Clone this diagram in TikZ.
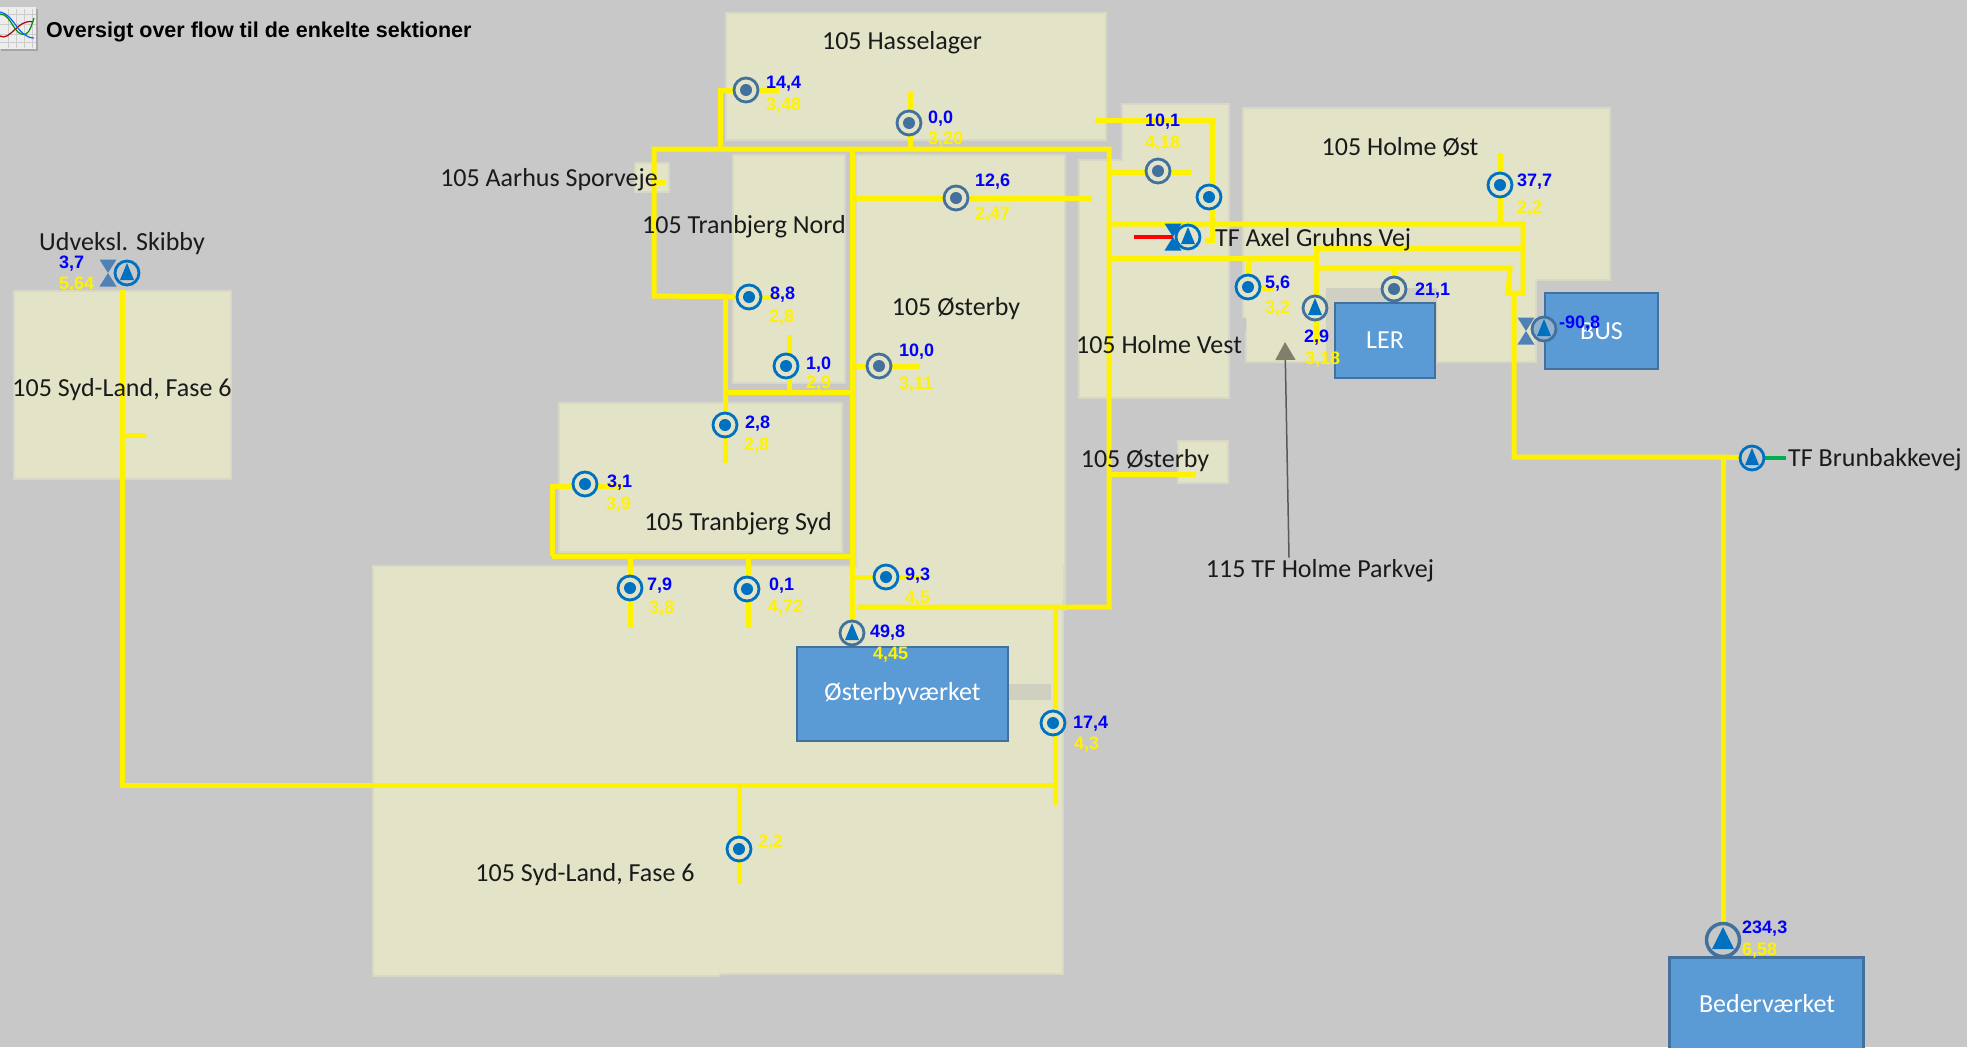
\documentclass[tikz,border=0pt]{standalone}
\usepackage{fontspec}
\usetikzlibrary{arrows.meta}
\newfontfamily\labfont{Carlito}
\newfontfamily\valfont{Liberation Sans}[BoldFont={Liberation Sans Bold}]
\definecolor{bgray}{HTML}{C8C8C8}
\definecolor{beige}{HTML}{E3E3C8}
\definecolor{beigeedge}{HTML}{D8D8C6}
\definecolor{boxfill}{HTML}{5B9BD5}
\definecolor{boxedge}{HTML}{41719C}
\definecolor{brightblue}{HTML}{0070C0}
\definecolor{dullblue}{HTML}{41719C}
\definecolor{valveblue}{HTML}{4F81B5}
\definecolor{arrowolive}{HTML}{7F7F6C}
\definecolor{labblack}{HTML}{1A1A1A}
\definecolor{pipegreen}{HTML}{00B050}
\definecolor{faintband}{HTML}{D0D0C0}
\definecolor{lerband}{HTML}{CFCFC4}
\pgfdeclarelayer{bg}\pgfdeclarelayer{pipes}\pgfsetlayers{bg,pipes,main}
\tikzset{
  region/.style={fill=beige,draw=beigeedge,line width=2pt},
  pipe/.style={draw=yellow,line width=5pt,line join=miter},
  lab/.style={inner sep=0pt,yshift=-2pt,text=labblack,font=\labfont\fontsize{26}{28}\selectfont},
  boxlab/.style={rectangle,draw=boxedge,fill=boxfill,line width=2.5pt,inner sep=0pt,text=white,font=\labfont\fontsize{26}{28}\selectfont},
  bv/.style={anchor=west,inner sep=0pt,yshift=-2pt,text=blue,font=\valfont\bfseries\fontsize{18}{20}\selectfont},
  yv/.style={anchor=west,inner sep=0pt,yshift=-2pt,text=yellow,font=\valfont\bfseries\fontsize{18}{20}\selectfont},
  meter/.style={circle,draw=#1,fill=beige,line width=2.8pt,minimum size=24pt,inner sep=0pt,
    path picture={\fill[#1] (path picture bounding box.center) circle (6);}},
  meter/.default=brightblue,
  pump/.style={circle,draw=#1,fill=beige,line width=2.8pt,minimum size=24pt,inner sep=0pt,
    path picture={\fill[brightblue] ([shift={(0,-10)}]path picture bounding box.center) -- ([shift={(7,7)}]path picture bounding box.center) -- ([shift={(-7,7)}]path picture bounding box.center) -- cycle;}},
  pump/.default=brightblue,
  bigpump/.style={circle,draw=dullblue,fill=bgray,line width=3.5pt,minimum size=33pt,inner sep=0pt,
    path picture={\fill[brightblue] ([shift={(0,-13)}]path picture bounding box.center) -- ([shift={(11,9)}]path picture bounding box.center) -- ([shift={(-11,9)}]path picture bounding box.center) -- cycle;}},
  valve/.style={rectangle,minimum width=17pt,minimum height=27pt,inner sep=0pt,
    path picture={\fill[#1] (path picture bounding box.north west) -- (path picture bounding box.north east) -- (path picture bounding box.south west) -- (path picture bounding box.south east) -- cycle;}},
}
\begin{document}
\begin{tikzpicture}[x=1pt,y=-1pt]
\useasboundingbox (0,0) rectangle (1967,1047);
\begin{pgfonlayer}{bg}
\fill[bgray] (0,0) rectangle (1967,1047);
% sections
\draw[region] (14,291) rectangle (231,479);
\draw[region] (726,13) rectangle (1106,140);
\draw[region] (635,163) rectangle (669,192);
\draw[region] (733,155) rectangle (845,383);
\draw[region] (856,155) rectangle (1065,610);
\draw[region] (559,403) rectangle (842,552);
\draw[region] (373,566) -- (1063,566) -- (1063,974) -- (720,974) -- (720,976) -- (373,976) -- cycle;
\fill[beige] (858,550) rectangle (1063,600);
\draw[region] (1079,160) -- (1122,160) -- (1122,104) -- (1229,104) -- (1229,398) -- (1079,398) -- cycle;
\draw[region] (1243,108) -- (1610,108) -- (1610,280) -- (1536,280) -- (1536,362) -- (1246,362) -- (1246,318) -- (1243,318) -- cycle;
\draw[region] (1178,441) rectangle (1228,483);
\fill[lerband] (1326,288) rectangle (1437,365);
\fill[bgray] (1232,318) rectangle (1246,330);
\fill[faintband] (1008,684) rectangle (1051,700);
\end{pgfonlayer}
% icon
\fill[black!35] (1,9) rectangle (38,51);
\fill[white!93!black] (0,7) rectangle (36,49);
\foreach \gx in {8,16,24,32} \draw[black!20,line width=.7pt] (\gx,9) -- (\gx,48);
\foreach \gy in {14,24,34,42} \draw[black!20,line width=.7pt] (0,\gy) -- (36,\gy);
\draw[red!70!black,line width=1.2pt] (0,36) .. controls (10,42) and (18,18) .. (33,22);
\draw[green!55!black,line width=1.2pt] (0,14) .. controls (12,14) and (14,38) .. (26,34) .. controls (30,32) and (32,24) .. (34,18);
\draw[blue!60!cyan,line width=1.2pt] (0,12) .. controls (14,14) and (18,38) .. (34,38);
\node[anchor=west,inner sep=0pt,text=black,font=\valfont\bfseries\fontsize{21.5}{23}\selectfont] (title) at (46,32) {Oversigt over flow til de enkelte sektioner};
% boxes
\node[boxlab,minimum width=211pt,minimum height=94pt] (oe) at (902.5,694) {\raisebox{-2pt}{Østerbyværket}};
\node[boxlab,minimum width=100pt,minimum height=75pt] (ler) at (1385,340.5) {\raisebox{-1.5pt}{LER}};
\node[boxlab,minimum width=113pt,minimum height=76pt] (bus) at (1601.5,331) {\raisebox{-2pt}{BUS}};
\node[boxlab,minimum width=194pt,minimum height=120pt,anchor=north west] (bed) at (1668,956) {};
\node[inner sep=0pt,text=white,font=\labfont\fontsize{26}{28}\selectfont] (bedtxt) at (1767,1004) {Bederværket};
% meters
\node[meter=dullblue] (m144) at (746,90) {};
\node[meter=dullblue] (m00) at (909,123) {};
\node[meter=dullblue] (m126) at (956,198) {};
\node[meter=dullblue] (m100) at (879,366) {};
\node[meter=dullblue] (m101) at (1158,171) {};
\node[meter=dullblue] (m211) at (1394,289) {};
\node[meter] (m88) at (749,297) {};
\node[meter] (m10) at (786,366) {};
\node[meter] (m28) at (725,425) {};
\node[meter] (m31) at (585,484) {};
\node[meter] (m79) at (630,588) {};
\node[meter] (m01) at (747,589) {};
\node[meter] (m93) at (886,577) {};
\node[meter] (m174) at (1053,723) {};
\node[meter] (m56) at (1248,287) {};
\node[meter] (m377) at (1500,185) {};
\node[meter] (mhv) at (1209,197) {};
\node[meter] (m22) at (739,849) {};
% pumps and valves
\node[pump=dullblue] (p498) at (852,633) {};
\node[pump=dullblue] (p29) at (1315,308) {};
\node[valve=valveblue] (v908) at (1526,331) {};
\node[pump=dullblue,fill=bgray!50!boxfill] (p908) at (1544,329) {};
\node[bigpump] (p234) at (1723,940) {};
\node[valve=valveblue] (vsk) at (108,273) {};
\node[pump,fill=bgray] (psk) at (127,273) {};
\node[valve=brightblue] (vax) at (1173,237) {};
\node[pump] (pax) at (1188,237) {};
\node[pump,fill=bgray] (pbr) at (1752,458) {};
% pipe junctions and free ends
\coordinate (a) at (654,149); \coordinate (b) at (1109,149); \coordinate (c) at (1109,607);
\coordinate (d) at (857,607); \coordinate (e) at (1055,607); \coordinate (f) at (1055,805);
\coordinate (f2) at (1055,785);
\coordinate (g) at (654,296); \coordinate (h) at (725,296); \coordinate (i) at (725,392);
\coordinate (j) at (852,392); \coordinate (k) at (852,149); \coordinate (n) at (1092,198);
\coordinate (o) at (852,198); \coordinate (p) at (720,149); \coordinate (q) at (720,90);
\coordinate (r) at (779,90); \coordinate (s) at (910,92); \coordinate (t) at (910,149);
\coordinate (u) at (778,297); \coordinate (v) at (789,335); \coordinate (w) at (789,395);
\coordinate (x) at (852,366); \coordinate (y) at (920,366); \coordinate (z) at (725,463);
\coordinate (aa) at (552,486); \coordinate (ab) at (552,556); \coordinate (ac) at (852,556);
\coordinate (ad) at (624,486); \coordinate (ae) at (630,556); \coordinate (af) at (630,628);
\coordinate (ag) at (748,556); \coordinate (ah) at (748,628); \coordinate (ai) at (852,577);
\coordinate (aj) at (923,577); \coordinate (ak) at (122,290); \coordinate (al) at (122,785);
\coordinate (am) at (122,435); \coordinate (an) at (146,435); \coordinate (ao) at (739,785);
\coordinate (ap) at (739,884); \coordinate (aq) at (654,182); \coordinate (ar) at (665,182);
\coordinate (as) at (1095,120); \coordinate (at1) at (1212,120); \coordinate (au) at (1212,240);
\coordinate (av) at (1205,240); \coordinate (aw) at (1109,172); \coordinate (ax) at (1191,172);
\coordinate (ay) at (1109,224); \coordinate (az) at (1523,224); \coordinate (ba) at (1523,293);
\coordinate (bc) at (1508,293); \coordinate (bd) at (1510,268); \coordinate (be) at (1514,293);
\coordinate (bf) at (1514,457); \coordinate (bg) at (1723,457); \coordinate (bh) at (1316,268);
\coordinate (bi) at (1316,248); \coordinate (bj) at (1523,248); \coordinate (bk) at (1109,258);
\coordinate (bl) at (1316,258); \coordinate (bm) at (1316,343); \coordinate (bn) at (1249,258);
\coordinate (bo) at (1274,289); \coordinate (bp) at (1394,268); \coordinate (bq) at (1500,153);
\coordinate (br) at (1500,224); \coordinate (bs) at (1109,474); \coordinate (bt) at (1196,474);
\coordinate (bu) at (1786,458); \coordinate (bv) at (1134,237); \coordinate (bw) at (1285,342);
\begin{pgfonlayer}{pipes}
\draw[pipe] (m88.center) -- (g) -- (a) -- (b) -- (c) -- (d);
\draw[pipe] (e) -- (f);
\draw[pipe] (h) -- (m28.center) -- (z);
\draw[pipe] (i) -- (j);
\draw[pipe] (k) -- (p498.center);
\draw[pipe] (o) -- (n);
\draw[pipe] (m144.center) -- (r);
\draw[pipe] (p) -- (q) -- (m144.center);
\draw[pipe] (s) -- (t);
\draw[pipe] (m88.center) -- (u);
\draw[pipe] (v) -- (w);
\draw[pipe] (x) -- (y);
\draw[pipe] (ab) -- (aa) -- (ad);
\draw[pipe] (ab) -- (ac);
\draw[pipe] (ae) -- (af);
\draw[pipe] (ag) -- (ah);
\draw[pipe] (ai) -- (aj);
\draw[pipe] (ak) -- (al) -- (f2);
\draw[pipe] (am) -- (an);
\draw[pipe] (ao) -- (ap);
\draw[pipe] (aq) -- (ar);
\draw[pipe] (as) -- (at1) -- (au) -- (av);
\draw[pipe] (aw) -- (ax);
\draw[pipe] (ay) -- (az) -- (ba) -- (bc) -- (bd) -- (bh);
\draw[pipe] (be) -- (bf) -- (bg) -- (pbr.center);
\draw[pipe] (bg) -- (p234.center);
\draw[pipe] (bj) -- (bi) -- (bm);
\draw[pipe] (bk) -- (bl);
\draw[pipe] (bn) -- (m56.center);
\draw[pipe] (m56.center) -- (bo);
\draw[pipe] (bp) -- (m211.center);
\draw[pipe] (bq) -- (br);
\draw[pipe] (bs) -- (bt);
\draw[draw=pipegreen,line width=4.5pt] (pbr.center) -- (bu);
\draw[draw=red,line width=4.5pt] (bv) -- (vax.center);
\end{pgfonlayer}
% section labels
\node[lab] (l1) at (902,41) {105 Hasselager};
\node[lab,anchor=east] (l2) at (658,178) {105 Aarhus Sporveje};
\node[lab] (l3) at (744,225) {105 Tranbjerg Nord};
\node[lab] (l4) at (956,307) {105 Østerby};
\node[lab] (l5) at (1159,343) {105 Holme Vest};
\node[lab] (l6) at (1145,459) {105 Østerby};
\node[lab] (l7) at (1400,145) {105 Holme Øst};
\node[lab,anchor=west] (l8) at (1215,238) {TF Axel Gruhns Vej};
\node[lab,anchor=west] (l9) at (1788,458) {TF Brunbakkevej};
\node[lab] (l10) at (1320,569) {115 TF Holme Parkvej};
\node[lab] (l11) at (738,522) {105 Tranbjerg Syd};
\node[lab] (l12) at (585,873) {105 Syd-Land, Fase 6};
\node[lab] (l13) at (122,388) {105 Syd-Land, Fase 6};
\node[lab] (l14) at (122,242) {Udveksl. Skibby};
\draw[draw=black!65,line width=1.5pt,-{Triangle[width=20pt,length=18pt,color=arrowolive]}] ([xshift=-31pt,yshift=2pt]l10.north) -- (bw);
% values
\node[bv] at (766,82) {14,4}; \node[yv] at (766,104) {3,48};
\node[bv] at (928,117) {0,0}; \node[yv] at (928,138) {3,20};
\node[bv] at (1145,120) {10,1}; \node[yv] at (1145,142) {4,18};
\node[bv] at (975,180) {12,6}; \node[yv] at (975,213) {2,47};
\node[bv] at (770,293) {8,8}; \node[yv] at (769,316) {2,8};
\node[bv] at (899,350) {10,0}; \node[yv] at (899,383) {3,11};
\node[bv] at (806,363) {1,0}; \node[yv] at (806,382) {2,9};
\node[bv] at (1265,282) {5,6}; \node[yv] at (1265,307) {3,2};
\node[bv] at (1304,336) {2,9}; \node[yv] at (1305,358) {3,18};
\node[bv] at (1415,289) {21,1};
\node[bv] at (1517,180) {37,7}; \node[yv] at (1517,207) {2,2};
\node[bv] at (1559,322) {-90,8};
\node[bv] at (745,422) {2,8}; \node[yv] at (744,444) {2,8};
\node[bv] at (607,481) {3,1}; \node[yv] at (606,503) {3,9};
\node[bv] at (647,584) {7,9}; \node[yv] at (649,607) {3,8};
\node[bv] at (769,584) {0,1}; \node[yv] at (768,606) {4,72};
\node[bv] at (905,574) {9,3}; \node[yv] at (905,597) {4,5};
\node[bv] at (870,631) {49,8}; \node[yv] at (873,653) {4,45};
\node[bv] at (1073,722) {17,4}; \node[yv] at (1074,743) {4,3};
\node[bv] at (1742,927) {234,3}; \node[yv] at (1742,949) {6,58};
\node[bv] at (59,262) {3,7}; \node[yv] at (59,283) {5,64};
\node[yv] at (758,841) {2,2};
\end{tikzpicture}
\end{document}
